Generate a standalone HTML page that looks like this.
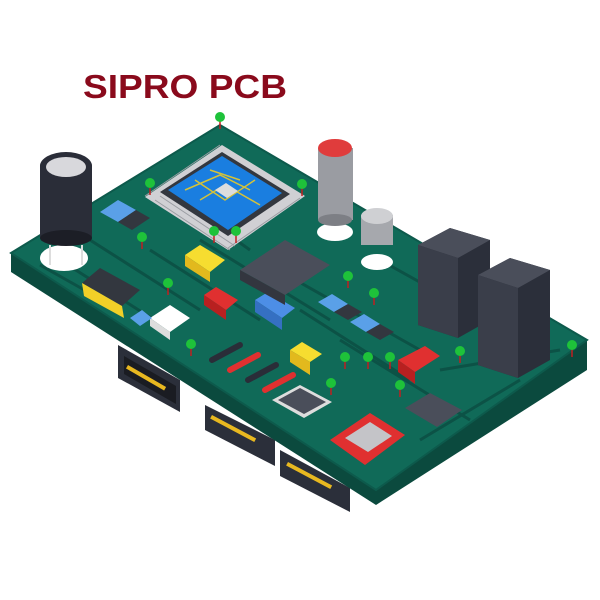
<!DOCTYPE html>
<html><head><style>html,body{margin:0;padding:0;background:#fff;width:600px;height:600px;overflow:hidden}</style></head>
<body>
<svg width="600" height="600" viewBox="0 0 600 600" xmlns="http://www.w3.org/2000/svg">
<text x="83" y="98" font-family="Liberation Sans, Arial, sans-serif" font-weight="bold" font-size="33" fill="#8a0a1c" textLength="204" lengthAdjust="spacingAndGlyphs">SIPRO PCB</text>

<!-- underside connectors -->
<polygon points="118,345 180,380 180,412 118,378" fill="#2b2f3a"/>
<polygon points="124,356 176,386 176,404 124,374" fill="#1a1c22"/>
<polygon points="205,405 275,440 275,466 205,430" fill="#2b2f3a"/>
<polygon points="280,450 350,488 350,512 280,476" fill="#2b2f3a"/>
<g fill="#e8b820"><rect x="128" y="365" width="44" height="4" transform="rotate(30 128 365)"/><rect x="212" y="415" width="50" height="4" transform="rotate(28 212 415)"/><rect x="288" y="462" width="50" height="4" transform="rotate(28 288 462)"/></g>

<!-- board thickness -->
<polygon points="11,253 11,272 376,505 587,370 587,340 376,490" fill="#0b4a3e"/>
<!-- board top -->
<polygon points="11,253 220,125 587,340 376,490" fill="#106a58"/>
<polygon points="11,253 220,125 587,340 376,490" fill="none" stroke="#0d5a4c" stroke-width="2"/>
<!-- traces -->
<g stroke="#0c5246" stroke-width="3" fill="none">
<path d="M60,260 L170,330 M90,240 L200,310 M150,250 L260,320 M200,240 L330,320 M260,260 L420,350 M300,310 L410,380 M340,340 L470,420 M380,260 L470,310 M440,370 L560,350 M180,200 L250,250 M40,265 L120,310 M420,440 L520,380"/>
</g>

<!-- big black capacitor -->
<ellipse cx="64" cy="258" rx="24" ry="13" fill="#fff"/>
<rect x="40" y="162" width="52" height="78" rx="4" fill="#2a2d38"/>
<ellipse cx="66" cy="238" rx="26" ry="8" fill="#1c1e26"/>
<ellipse cx="66" cy="166" rx="26" ry="14" fill="#2a2d38"/>
<ellipse cx="66" cy="167" rx="20" ry="10" fill="#d8d8dc"/>
<g stroke="#ddd" stroke-width="2"><line x1="50" y1="245" x2="50" y2="265"/><line x1="82" y1="245" x2="82" y2="265"/></g>

<!-- CPU chip -->
<polygon points="145,197 222,145 305,196 228,250" fill="#d0d0d4"/>
<g stroke="#9a9ca2" stroke-width="1">
<path d="M155,200 L230,250 M160,196 L235,246 M220,145 L145,196 M300,198 L228,248"/>
</g>
<polygon points="160,192 222,152 290,194 228,236" fill="#33373f"/>
<polygon points="168,190 222,156 282,193 228,230" fill="#1a7ee0"/>
<g stroke="#d4c23a" stroke-width="1.5" fill="none"><path d="M185,190 L220,175 L250,190 M200,200 L225,185 L260,205 M210,170 L240,180 M195,180 L225,200 L255,180"/></g>
<polygon points="215,190 226,183 238,191 227,198" fill="#ddd"/>

<!-- grey tall capacitor -->
<ellipse cx="335" cy="232" rx="18" ry="9" fill="#fff"/>
<rect x="318" y="148" width="35" height="72" fill="#9a9ca2"/>
<ellipse cx="335" cy="220" rx="17" ry="6" fill="#7d7f85"/>
<ellipse cx="335" cy="148" rx="17" ry="9" fill="#e03c3c"/>
<!-- small grey cap -->
<ellipse cx="377" cy="262" rx="16" ry="8" fill="#fff"/>
<rect x="361" y="215" width="32" height="30" fill="#a6a8ad"/>
<ellipse cx="377" cy="216" rx="16" ry="8" fill="#cfd0d3"/>

<!-- small SMD top left -->
<polygon points="100,212 118,200 136,210 118,222" fill="#5aa0e8"/>
<polygon points="118,222 136,210 150,218 132,230" fill="#33373f"/>

<!-- yellow/black block -->
<polygon points="82,283 100,268 140,290 122,306" fill="#33373f"/>
<polygon points="82,283 122,306 124,318 84,296" fill="#f2d028"/>

<!-- trucks -->
<polygon points="185,255 200,245 225,260 210,272" fill="#f6dd30"/>
<polygon points="185,255 210,272 210,282 185,266" fill="#e2b91d"/>
<polygon points="204,295 216,287 238,300 226,310" fill="#e03030"/>
<polygon points="204,295 226,310 226,320 204,305" fill="#b82020"/>
<polygon points="255,300 268,292 295,308 282,318" fill="#4d8ee6"/>
<polygon points="255,300 282,318 282,330 255,312" fill="#3570c2"/>
<polygon points="150,318 170,305 190,318 170,332" fill="#fff"/>
<polygon points="150,318 170,332 170,340 150,326" fill="#ddd"/>
<polygon points="130,318 142,310 152,318 140,326" fill="#5aa0e8"/>
<polygon points="290,350 302,342 322,354 310,362" fill="#f6dd30"/>
<polygon points="290,350 310,362 310,375 290,362" fill="#e2b91d"/>
<polygon points="398,360 425,346 440,356 415,372" fill="#e03030"/>
<polygon points="398,360 415,372 415,384 398,372" fill="#b82020"/>

<!-- regulator -->
<polygon points="240,270 285,240 330,265 285,295" fill="#4a4e5a"/>
<polygon points="240,270 285,295 285,305 240,280" fill="#33363f"/>

<!-- SMDs right -->
<polygon points="318,302 332,294 348,304 334,312" fill="#5aa0e8"/>
<polygon points="334,312 348,304 362,312 348,320" fill="#33373f"/>
<polygon points="350,322 364,314 380,324 366,332" fill="#5aa0e8"/>
<polygon points="366,332 380,324 394,332 380,340" fill="#33373f"/>

<!-- resistors -->
<g stroke-width="6" stroke-linecap="round">
<line x1="212" y1="360" x2="240" y2="345" stroke="#2a2d38"/>
<line x1="230" y1="370" x2="258" y2="355" stroke="#e03030"/>
<line x1="248" y1="380" x2="276" y2="365" stroke="#2a2d38"/>
<line x1="265" y1="390" x2="293" y2="375" stroke="#e03030"/>
</g>

<!-- display -->
<polygon points="272,400 300,385 332,402 304,418" fill="#ddd"/>
<polygon points="278,400 300,388 326,402 304,414" fill="#4a4e5a"/>

<!-- red chip -->
<polygon points="330,440 370,413 405,435 365,465" fill="#e03030"/>
<polygon points="345,438 370,422 392,436 368,452" fill="#c4c4c8"/>
<!-- right small chip -->
<polygon points="405,408 430,393 462,410 437,427" fill="#4a4e5a"/>

<!-- tall black connectors -->
<polygon points="418,245 450,228 490,240 490,320 458,338 418,325" fill="#2b2f3a"/>
<polygon points="418,245 450,228 490,240 458,258" fill="#4a4e5a"/>
<polygon points="418,245 458,258 458,338 418,325" fill="#3a3e4a"/>
<polygon points="478,275 510,258 550,270 550,360 518,378 478,365" fill="#2b2f3a"/>
<polygon points="478,275 510,258 550,270 518,288" fill="#4a4e5a"/>
<polygon points="478,275 518,288 518,378 478,365" fill="#3a3e4a"/>

<!-- green LEDs -->
<g stroke="#c02020" stroke-width="1.5">
<path d="M220,117v12 M150,183v12 M302,184v12 M214,231v12 M236,231v12 M142,237v12 M168,283v12 M348,276v12 M374,293v12 M191,344v12 M345,357v12 M368,357v12 M390,357v12 M331,383v12 M400,385v12 M460,351v12 M572,345v12"/>
</g>
<g fill="#1ec23a">
<circle cx="220" cy="117" r="5"/><circle cx="150" cy="183" r="5"/><circle cx="302" cy="184" r="5"/>
<circle cx="214" cy="231" r="5"/><circle cx="236" cy="231" r="5"/><circle cx="142" cy="237" r="5"/>
<circle cx="168" cy="283" r="5"/><circle cx="348" cy="276" r="5"/><circle cx="374" cy="293" r="5"/>
<circle cx="191" cy="344" r="5"/><circle cx="345" cy="357" r="5"/><circle cx="368" cy="357" r="5"/>
<circle cx="390" cy="357" r="5"/><circle cx="331" cy="383" r="5"/><circle cx="400" cy="385" r="5"/>
<circle cx="460" cy="351" r="5"/><circle cx="572" cy="345" r="5"/>
</g>
</svg>
</body></html>
